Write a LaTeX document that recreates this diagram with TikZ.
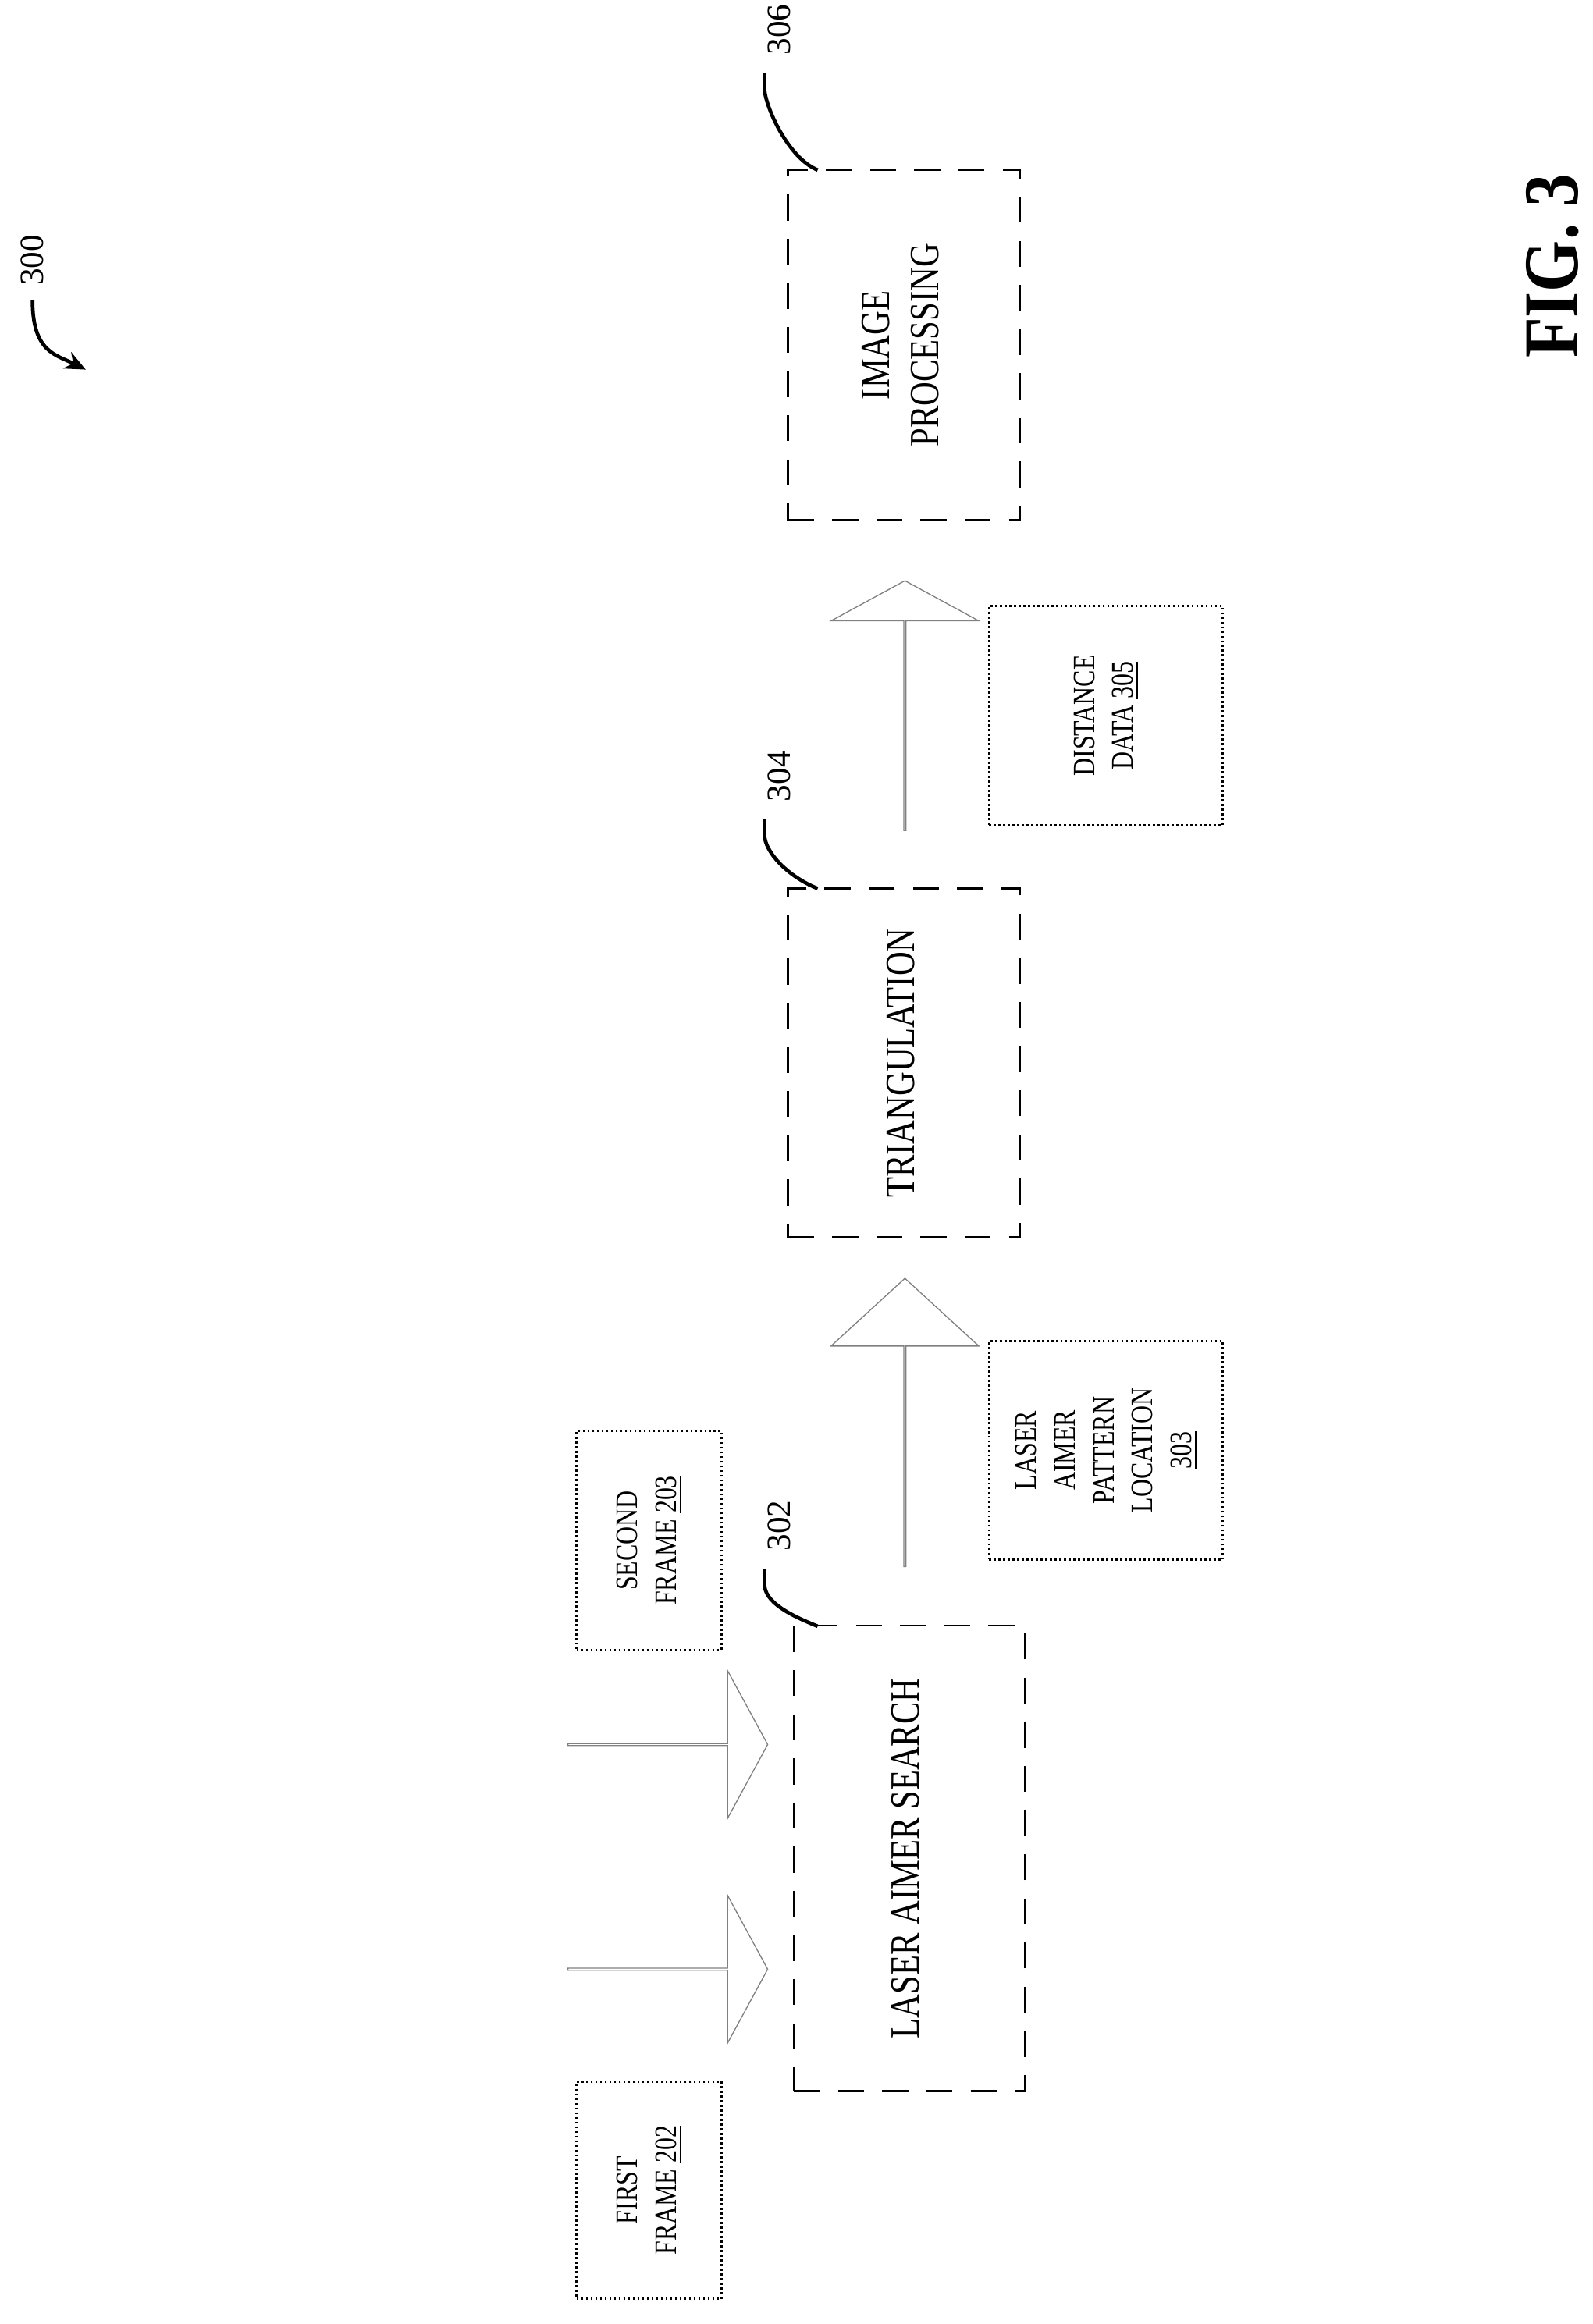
\documentclass[tikz,border=0pt]{standalone}
\usepackage{fontspec}
\setmainfont{Liberation Serif}
\usetikzlibrary{shapes.arrows,arrows.meta}

\newcommand{\vtext}[2][0.8]{\rotatebox{90}{\scalebox{#1}[1]{\begin{tabular}{@{}c@{}}#2\end{tabular}}}}

\tikzset{
    mainbox/.style={draw, thick, dash pattern=on 10pt off 7pt, minimum width=#1*0.02cm, inner sep=0pt},
    framebox/.style={draw, thick, densely dotted, minimum width=#1*0.02cm, inner sep=0pt},
    blockarrow/.style={draw, gray, thin, single arrow, inner sep=0pt, minimum width=2cm,
        single arrow head extend=0.5cm, minimum height=#1*0.02cm},
    leader/.style={line width=1.4pt}
}

\begin{document}
\begin{tikzpicture}[x=0.02cm, y=0.02cm]
    \useasboundingbox (0,0) rectangle (1077,-1572);

    \node [mainbox=156, minimum height=6.3cm, font=\fontsize{16}{19}\selectfont] (search) at (615,-1257) {\vtext{LASER AIMER SEARCH}};
    \node [mainbox=157, minimum height=4.72cm, font=\fontsize{16}{19}\selectfont] (tri) at (611.5,-719) {\vtext{TRIANGULATION}};
    \node [mainbox=157, minimum height=4.74cm, font=\fontsize{16}{19}\selectfont] (img) at (611.5,-233.5) {\vtext{IMAGE\\PROCESSING}};

    \node [framebox=98, minimum height=2.94cm, font=\fontsize{12}{15}\selectfont] (first) at (439,-1481.5) {\vtext{FIRST\\FRAME \underline{202}}};
    \node [framebox=98, minimum height=2.96cm, font=\fontsize{12}{15}\selectfont] (second) at (439,-1042) {\vtext{SECOND\\FRAME \underline{203}}};
    \node [framebox=158, minimum height=2.96cm, font=\fontsize{12}{15}\selectfont] (loc) at (748,-981) {\vtext{LASER\\AIMER\\PATTERN\\LOCATION\\\underline{303}}};
    \node [framebox=158, minimum height=2.96cm, font=\fontsize{12}{15}\selectfont] (dist) at (748,-484) {\vtext{DISTANCE\\DATA \underline{305}}};

    \node [blockarrow=135, single arrow tip angle=123] (arr1) at (451.5,-1332) {};
    \node [blockarrow=135, single arrow tip angle=123] (arr2) at (451.5,-1180) {};
    \node [blockarrow=195, single arrow tip angle=95, rotate=90] (arr3) at (612,-962.5) {};
    \node [blockarrow=169, single arrow tip angle=123, rotate=90] (arr4) at (612,-477.5) {};

    % reference numerals
    \node [font=\fontsize{13}{15}\selectfont, rotate=90] (n302) at (527,-1032) {302};
    \node [font=\fontsize{13}{15}\selectfont, rotate=90] (n304) at (527,-525) {304};
    \node [font=\fontsize{13}{15}\selectfont, rotate=90] (n306) at (527,-20) {306};
    \coordinate (c302) at (553,-1100);
    \coordinate (c304) at (553,-601);
    \coordinate (c306) at (553,-115);
    \draw [leader] (n302.west) ++(-10,-6) -- ++(0,-10) .. controls ++(0,-12) and ++(-20,8) .. (c302);
    \draw [leader] (n304.west) ++(-10,-6) -- ++(0,-10) .. controls ++(0,-12) and ++(-20,8) .. (c304);
    \draw [leader] (n306.west) ++(-10,-6) -- ++(0,-10) .. controls ++(0,-12) and ++(-20,8) .. (c306);

    \node [font=\fontsize{13}{15}\selectfont, rotate=90] (n300) at (22,-176) {300};
    \coordinate (c300) at (58,-250);
    \draw [leader, -{Stealth[length=8pt,width=7pt]}] (n300.west) ++(0,-4) .. controls ++(0,-35) and ++(-20,10) .. (c300);

    \node [font=\bfseries\fontsize{30}{34}\selectfont, rotate=90] (fig) at (1050,-180) {\scalebox{0.85}[1]{FIG. 3}};
\end{tikzpicture}
\end{document}
